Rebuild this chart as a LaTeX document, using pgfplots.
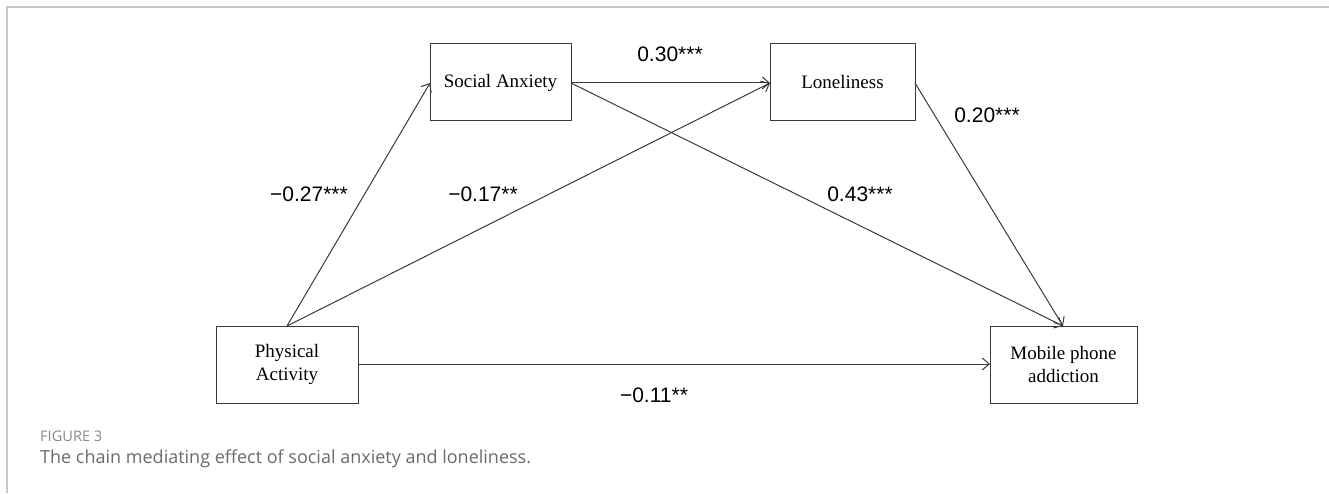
\documentclass[border=0pt]{standalone}
\usepackage{pgfplots}
\pgfplotsset{compat=1.18}
\usepackage{fontspec}
\setmainfont{Liberation Serif}
\newfontfamily\numfont{Liberation Sans}
\newfontfamily\capfont{Open Sans}
\usetikzlibrary{arrows.meta}
\definecolor{ln}{HTML}{3A3A3A}
\definecolor{frm}{HTML}{C8C8C8}
\definecolor{capg}{HTML}{6A6A6A}
\definecolor{figg}{HTML}{8A8A8A}
\tikzset{
  box/.style={ln,line width=1pt,no markers},
  arr/.style={ln,line width=1pt,no markers,-{Straight Barb[length=7pt,width=12pt]}},
  boxlab/.style={font=\fontsize{19}{23}\selectfont,align=center,text=black},
  num/.style={font=\numfont\fontsize{21}{24}\selectfont,anchor=base,text=black}}
\begin{document}
\begin{tikzpicture}
\begin{axis}[x=1pt,y=1pt,xmin=0,xmax=1329,ymin=0,ymax=493,hide axis,clip=false,
  anchor=origin, at={(0,0)}]
% frame
\addplot[frm,line width=2pt,no markers] coordinates {(7,0) (7,486) (1329,486)};
% boxes
\addplot[box] coordinates {(430,372) (571,372) (571,449) (430,449)} -- cycle;
\addplot[box] coordinates {(770,372) (915,372) (915,449) (770,449)} -- cycle;
\addplot[box] coordinates {(216,90) (358,90) (358,167) (216,167)} -- cycle;
\addplot[box] coordinates {(990,90) (1137,90) (1137,167) (990,167)} -- cycle;
% arrows
\addplot[arr] coordinates {(287,167) (430,410)};
\addplot[arr] coordinates {(287,167) (770,410)};
\addplot[arr] coordinates {(571,410) (770,410)};
\addplot[arr] coordinates {(571,410) (1063,167)};
\addplot[arr] coordinates {(915,410) (1063,167)};
\addplot[arr] coordinates {(358,129) (990,129)};
% box labels
\node[boxlab] at (axis cs:500.5,410.5) {Social Anxiety};
\node[boxlab] at (axis cs:842.5,410.5) {Loneliness};
\node[boxlab] at (axis cs:287,128.5) {Physical\\Activity};
\node[boxlab] at (axis cs:1063.5,128.5) {Mobile phone\\addiction};
% coefficients
\node[num] at (axis cs:670,431) {0.30***};
\node[num] at (axis cs:309,291) {−0.27***};
\node[num] at (axis cs:483,291) {−0.17**};
\node[num] at (axis cs:987,370) {0.20***};
\node[num] at (axis cs:860,291) {0.43***};
\node[num] at (axis cs:654,91) {−0.11**};
% caption
\node[anchor=base west,inner sep=0pt,text=figg,font=\capfont\fontsize{14.6}{17}\selectfont] at (axis cs:40,52) {FIGURE 3};
\node[anchor=base west,inner sep=0pt,text=capg,font=\capfont\fontsize{18}{21}\selectfont] at (axis cs:40,30) {The chain mediating effect of social anxiety and loneliness.};
\end{axis}
\pgfresetboundingbox
\path[use as bounding box] (0,0) rectangle (1329pt,493pt);
\end{tikzpicture}
\end{document}
